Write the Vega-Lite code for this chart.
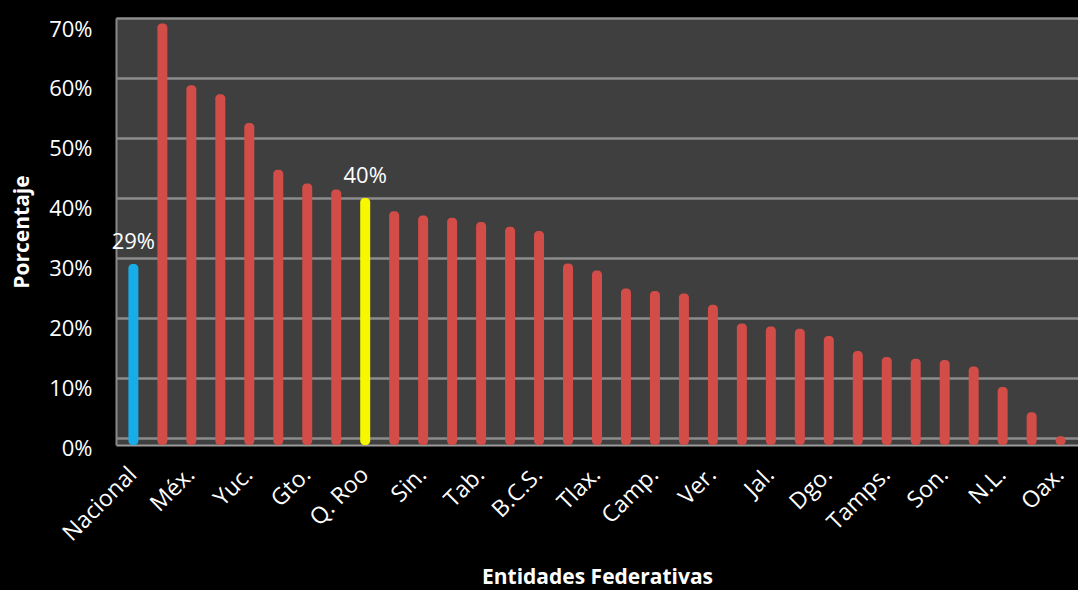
{
  "$schema": "https://vega.github.io/schema/vega-lite/v6.json",
  "autosize": "none",
  "padding": {"left": 116, "top": 18, "right": 0, "bottom": 145},
  "width": 962,
  "height": 427,
  "background": "#000000",
  "config": {
    "view": {"fill": "#3f3f3f", "stroke": null},
    "font": "Open Sans"
  },
  "data": {
    "values": [
      {"entidad": "Nacional", "valor": 0.29},
      {"entidad": "Chis.", "valor": 0.691},
      {"entidad": "Méx.", "valor": 0.588},
      {"entidad": "Gro.", "valor": 0.573},
      {"entidad": "Yuc.", "valor": 0.525},
      {"entidad": "Pue.", "valor": 0.447},
      {"entidad": "Gto.", "valor": 0.424},
      {"entidad": "Hgo.", "valor": 0.414},
      {"entidad": "Q. Roo", "valor": 0.40},
      {"entidad": "Mich.", "valor": 0.378},
      {"entidad": "Sin.", "valor": 0.371},
      {"entidad": "Zac.", "valor": 0.367},
      {"entidad": "Tab.", "valor": 0.360},
      {"entidad": "S.L.P.", "valor": 0.352},
      {"entidad": "B.C.S.", "valor": 0.345},
      {"entidad": "Nay.", "valor": 0.291},
      {"entidad": "Tlax.", "valor": 0.279},
      {"entidad": "Mor.", "valor": 0.249},
      {"entidad": "Camp.", "valor": 0.245},
      {"entidad": "Qro.", "valor": 0.241},
      {"entidad": "Ver.", "valor": 0.222},
      {"entidad": "Col.", "valor": 0.191},
      {"entidad": "Jal.", "valor": 0.186},
      {"entidad": "Chih.", "valor": 0.182},
      {"entidad": "Dgo.", "valor": 0.170},
      {"entidad": "Coah.", "valor": 0.145},
      {"entidad": "Tamps.", "valor": 0.135},
      {"entidad": "Ags.", "valor": 0.132},
      {"entidad": "Son.", "valor": 0.130},
      {"entidad": "B.C.", "valor": 0.119},
      {"entidad": "N.L.", "valor": 0.085},
      {"entidad": "D.F.", "valor": 0.043},
      {"entidad": "Oax.", "valor": 0.003}
    ]
  },
  "encoding": {
    "x": {
      "field": "entidad",
      "type": "nominal",
      "sort": null,
      "scale": {"paddingInner": 0, "paddingOuter": 0.1},
      "axis": {
        "title": "Entidades Federativas",
        "titleColor": "#ffffff",
        "titleFontSize": 21,
        "titleFontWeight": "bold",
        "titlePadding": 21,
        "labelAngle": -45,
        "labelColor": "#ffffff",
        "labelFontSize": 23,
        "labelPadding": 18,
        "labelOffset": -8,
        "labelOverlap": false,
        "labelExpr": "indexof(['Nacional','Méx.','Yuc.','Gto.','Q. Roo','Sin.','Tab.','B.C.S.','Tlax.','Camp.','Ver.','Jal.','Dgo.','Tamps.','Son.','N.L.','Oax.'], datum.value) >= 0 ? datum.label : ''",
        "ticks": false,
        "domainColor": "#9a9a9a",
        "domainWidth": 2
      }
    }
  },
  "layer": [
    {
      "mark": {"type": "bar", "size": 10, "cornerRadiusEnd": 4},
      "encoding": {
        "y": {
          "field": "valor",
          "type": "quantitative",
          "scale": {"domain": [-0.0117, 0.7], "nice": false, "zero": false},
          "axis": {
            "title": "Porcentaje",
            "titleColor": "#ffffff",
            "titleFontSize": 21,
            "titleFontWeight": "bold",
            "titlePadding": 16,
            "values": [0, 0.1, 0.2, 0.3, 0.4, 0.5, 0.6, 0.7],
            "format": ".0%",
            "labelColor": "#ffffff",
            "labelFontSize": 22,
            "labelPadding": 24,
            "labelOffset": 11,
            "ticks": false,
            "grid": true,
            "gridColor": "#8c8c8c",
            "gridWidth": 2.5,
            "domainColor": "#8a8a8a",
            "domainWidth": 2
          }
        },
        "y2": {"datum": -0.0117},
        "color": {
          "condition": [
            {"test": "datum.entidad === 'Nacional'", "value": "#17ade8"},
            {"test": "datum.entidad === 'Q. Roo'", "value": "#f7f700"}
          ],
          "value": "#d24c48"
        }
      }
    },
    {
      "transform": [{"filter": "datum.entidad === 'Nacional' || datum.entidad === 'Q. Roo'"}],
      "mark": {"type": "text", "color": "#ffffff", "fontSize": 22, "baseline": "bottom", "dy": -10},
      "encoding": {
        "y": {"field": "valor", "type": "quantitative"},
        "text": {"field": "valor", "type": "quantitative", "format": ".0%"}
      }
    }
  ]
}
